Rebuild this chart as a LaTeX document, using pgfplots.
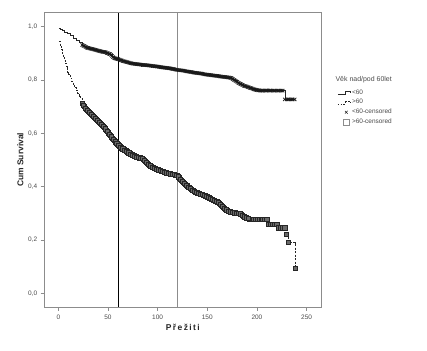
\documentclass[border=0pt]{standalone}
\usepackage{pgfplots}
\pgfplotsset{compat=1.18}
\usepackage{pgfplotstable}
\usepackage{fontspec}
\setmainfont{Liberation Sans}

\pgfplotstableread{
x y
0.5 0.994
2 0.990
4 0.985
6 0.980
9 0.975
12 0.966
15 0.958
18 0.950
21 0.940
24 0.931
26 0.927
28 0.923
30 0.920
32 0.918
34 0.916
36 0.914
38 0.912
40 0.910
42 0.908
44 0.906
46 0.905
48 0.903
50 0.900
52 0.897
54 0.890
56 0.883
58 0.880
60 0.878
62 0.876
64 0.873
66 0.870
68 0.868
70 0.866
72 0.864
74 0.862
76 0.861
78 0.860
80 0.859
82 0.858
84 0.857
86 0.856
88 0.856
90 0.855
92 0.854
94 0.853
96 0.852
98 0.851
100 0.850
102 0.849
104 0.848
106 0.847
108 0.846
110 0.845
112 0.844
114 0.842
116 0.841
118 0.839
120 0.838
122 0.837
124 0.836
126 0.835
128 0.833
130 0.832
132 0.831
134 0.830
136 0.828
138 0.827
140 0.826
142 0.825
144 0.824
146 0.822
148 0.821
150 0.820
152 0.819
154 0.818
156 0.817
158 0.816
160 0.815
162 0.814
164 0.813
166 0.812
168 0.811
170 0.810
172 0.809
174 0.807
176 0.803
178 0.798
180 0.793
182 0.788
184 0.784
186 0.780
188 0.777
190 0.775
192 0.772
194 0.769
196 0.767
198 0.764
200 0.762
202 0.761
204 0.760
206 0.760
208 0.760
210 0.760
212 0.760
214 0.760
216 0.760
218 0.760
220 0.760
222 0.760
224 0.760
226 0.760
228 0.727
230 0.727
232 0.727
234 0.727
236 0.727
238 0.727
}\uppertab

\pgfplotstableread{
x y
25 0.929
27 0.925
29 0.921
31 0.919
33 0.917
35 0.915
37 0.913
39 0.911
41 0.909
43 0.907
45 0.905
47 0.904
49 0.901
51 0.898
53 0.894
55 0.886
57 0.881
59 0.879
61 0.877
63 0.874
65 0.871
67 0.869
69 0.867
71 0.865
73 0.863
75 0.861
77 0.860
79 0.859
81 0.858
83 0.857
85 0.856
87 0.856
89 0.855
91 0.854
93 0.853
95 0.852
97 0.851
99 0.850
101 0.849
103 0.848
105 0.847
107 0.846
109 0.845
111 0.844
113 0.843
115 0.841
117 0.840
119 0.838
121 0.837
123 0.836
125 0.835
127 0.834
129 0.832
131 0.831
133 0.830
135 0.829
137 0.827
139 0.826
141 0.825
143 0.824
145 0.823
147 0.821
149 0.820
151 0.819
153 0.818
155 0.817
157 0.816
159 0.815
161 0.814
163 0.813
165 0.812
167 0.811
169 0.810
171 0.809
173 0.808
175 0.805
177 0.800
179 0.795
181 0.790
183 0.786
185 0.782
187 0.778
189 0.776
191 0.773
193 0.770
195 0.768
197 0.765
199 0.763
201 0.761
203 0.760
205 0.760
209 0.760
213 0.760
217 0.760
221 0.760
225 0.760
231 0.727
235 0.727
}\upperodd

\pgfplotstableread{
x y
0.5 0.945
1.5 0.930
2.5 0.915
3.5 0.900
4.5 0.888
5.5 0.875
6.5 0.862
7.5 0.850
8.5 0.840
9.5 0.830
10.5 0.820
12 0.807
13.5 0.795
15 0.783
16.5 0.772
18 0.761
19.5 0.750
21 0.740
22.5 0.730
24 0.712
26 0.700
28 0.690
30 0.682
32 0.674
34 0.667
36 0.660
38 0.652
40 0.644
42 0.637
44 0.630
46 0.622
48 0.612
50 0.602
52 0.592
54 0.582
56 0.574
58 0.566
60 0.558
62 0.551
64 0.545
66 0.540
68 0.535
70 0.530
72 0.525
74 0.520
76 0.516
78 0.513
80 0.510
82 0.508
84 0.506
86 0.503
88 0.495
90 0.487
92 0.480
94 0.476
96 0.472
98 0.468
100 0.465
102 0.462
104 0.459
106 0.456
108 0.453
110 0.451
112 0.449
114 0.447
116 0.445
118 0.444
120 0.441
122 0.433
124 0.425
126 0.417
128 0.410
130 0.403
132 0.396
134 0.390
136 0.385
138 0.380
140 0.377
142 0.374
144 0.371
146 0.369
148 0.366
150 0.362
152 0.358
154 0.354
156 0.350
158 0.346
160 0.343
162 0.338
164 0.330
166 0.322
168 0.315
170 0.311
172 0.308
174 0.305
176 0.303
178 0.302
180 0.301
182 0.300
184 0.296
186 0.290
188 0.285
190 0.281
192 0.279
194 0.278
196 0.278
198 0.278
200 0.278
202 0.278
204 0.278
206 0.278
208 0.278
210 0.278
212 0.259
214 0.259
216 0.259
218 0.259
220 0.259
222 0.246
224 0.246
226 0.246
228 0.246
229.5 0.221
231.5 0.190
238.5 0.094
}\lowertab

\pgfplotstableread{
x y
25 0.706
27 0.695
29 0.686
31 0.678
33 0.670
35 0.663
37 0.656
39 0.648
41 0.640
43 0.633
45 0.626
47 0.617
49 0.607
51 0.597
53 0.587
55 0.578
57 0.570
59 0.562
61 0.554
63 0.548
65 0.542
67 0.537
69 0.532
71 0.527
73 0.522
75 0.518
77 0.514
79 0.511
81 0.509
83 0.507
85 0.505
87 0.499
89 0.491
91 0.483
93 0.478
95 0.474
97 0.470
99 0.466
101 0.463
103 0.460
105 0.457
107 0.454
109 0.452
111 0.450
113 0.448
115 0.446
117 0.445
119 0.443
121 0.437
123 0.429
125 0.421
127 0.413
129 0.406
131 0.399
133 0.393
135 0.387
137 0.382
139 0.378
141 0.375
143 0.372
145 0.370
147 0.367
149 0.364
151 0.360
153 0.356
155 0.352
157 0.348
159 0.344
161 0.340
163 0.334
165 0.326
167 0.318
169 0.313
171 0.309
173 0.306
175 0.304
177 0.302
179 0.301
181 0.300
183 0.298
185 0.293
187 0.287
189 0.283
191 0.280
}\lowerodd

\definecolor{axgray}{HTML}{8C8C8C}
\definecolor{txtgray}{HTML}{4A4A4A}
\definecolor{sqfill}{HTML}{6A6A6A}

\pgfplotsset{
  steplegend/.style={legend image code/.code={%
    \draw[##1] (0bp,-1.5bp) -- (7bp,-1.5bp) -- (7bp,1.5bp) -- (12bp,1.5bp) -- (12bp,-0.5bp);}},
}

\begin{document}
\begin{tikzpicture}[x=1bp,y=1bp]
\path[use as bounding box] (0,0) rectangle (427,351);
\begin{axis}[
  at={(44.7bp,44bp)}, anchor=south west,
  scale only axis, width=276.3bp, height=294.3bp,
  xmin=-13.7, xmax=264.5, ymin=-0.051, ymax=1.052,
  clip=false,
  xtick={0,50,100,150,200,250},
  ytick={0,0.2,0.4,0.6,0.8,1.0},
  xtick pos=bottom, ytick pos=left,
  tick align=outside, major tick length=4bp,
  tick style={axgray, line width=0.6pt},
  axis line style={axgray, line width=0.8pt},
  /pgf/number format/assume math mode=true,
  yticklabel style={/pgf/number format/.cd, fixed, fixed zerofill, precision=1, use comma},
  xticklabel style={/pgf/number format/.cd, fixed, precision=0},
  ticklabel style={font=\fontsize{6.5}{7}\selectfont, text=txtgray},
  xlabel={\textbf{P\,ř\,e\,ž\,i\,t\,i}}, ylabel={\textbf{Cum Survival}},
  label style={font=\fontsize{8.5}{10}\selectfont, text=black!85},
  xlabel style={yshift=2bp},
  ylabel style={yshift=-2bp},
  legend style={draw=none, fill=none, at={(1.06,0.745)}, anchor=north west,
    font=\fontsize{6.5}{7}\selectfont, text=txtgray, row sep=-0.3pt,
    inner sep=0pt, outer sep=0pt},
  legend cell align=left,
]
\addplot[black, line width=0.7pt, forget plot] coordinates {(60,-0.051) (60,1.052)};
\addplot[axgray, line width=1.2pt, forget plot] coordinates {(120,-0.051) (120,1.052)};
\addplot[const plot, black!85, line width=0.5pt, forget plot] table {\uppertab};
\addplot[const plot, black!85, line width=0.5pt, dash pattern=on 2pt off 1.5pt, forget plot] table {\lowertab};
\addplot[only marks, mark=x, mark size=2.3pt, black!90, line width=0.75pt, restrict x to domain=23:240, forget plot] table {\uppertab};
\addplot[only marks, mark=x, mark size=2.3pt, black!90, line width=0.75pt, forget plot] table {\upperodd};
\addplot[only marks, mark=square*, mark size=2.1pt, draw=black!85, fill=sqfill, line width=0.65pt, restrict x to domain=23:240, forget plot] table {\lowertab};
\addplot[only marks, mark=square*, mark size=2.1pt, draw=black!85, fill=sqfill, line width=0.65pt, forget plot] table {\lowerodd};

\addlegendimage{black!85, line width=0.5pt, steplegend}
\addlegendentry{<60}
\addlegendimage{black!85, line width=0.5pt, dash pattern=on 1.5pt off 1.2pt, steplegend}
\addlegendentry{>60}
\addlegendimage{only marks, mark=x, mark size=2pt, black!85, line width=0.5pt}
\addlegendentry{<60-censored}
\addlegendimage{only marks, mark=square, mark size=2.8pt, axgray, line width=0.5pt}
\addlegendentry{>60-censored}

\node[anchor=west, font=\fontsize{7}{8}\selectfont, text=txtgray] at (rel axis cs:1.04,0.772) {Věk nad/pod 60let};
\end{axis}
\end{tikzpicture}
\end{document}
